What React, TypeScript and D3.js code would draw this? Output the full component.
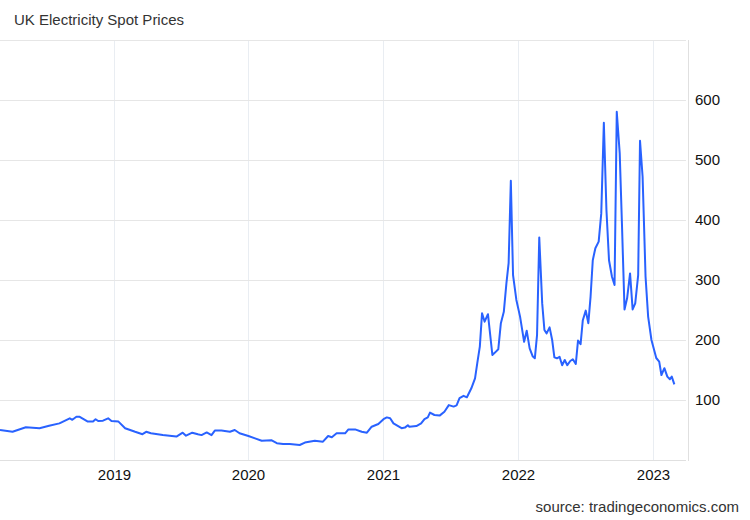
import React from "react";
import * as d3 from "d3";

const dates: string[] = [
  "2018-02-27","2018-04-02","2018-05-08","2018-06-14","2018-07-10","2018-08-07","2018-09-04","2018-09-11","2018-09-22","2018-10-01",
  "2018-10-23","2018-11-06","2018-11-13","2018-11-20","2018-12-03","2018-12-17","2018-12-26",
  "2019-01-14","2019-02-01","2019-02-28","2019-03-20","2019-03-30","2019-04-12","2019-05-14","2019-06-20","2019-07-07","2019-07-16",
  "2019-08-02","2019-08-17","2019-08-27","2019-09-10","2019-09-23","2019-10-02","2019-10-20","2019-11-12","2019-11-25","2019-12-08",
  "2020-01-01","2020-01-19","2020-02-06","2020-03-03","2020-03-18","2020-04-04","2020-04-22","2020-05-19","2020-06-02","2020-06-29",
  "2020-07-21","2020-08-04","2020-08-14","2020-08-27","2020-09-19","2020-09-28","2020-10-16","2020-11-03","2020-11-17","2020-11-30","2020-12-18",
  "2021-01-01","2021-01-10","2021-01-19","2021-01-28","2021-02-19","2021-02-28","2021-03-08","2021-03-12","2021-03-31","2021-04-13",
  "2021-04-22","2021-05-01","2021-05-07","2021-05-19","2021-06-02","2021-06-15","2021-06-27","2021-07-10","2021-07-18","2021-07-26",
  "2021-08-06","2021-08-15","2021-08-27","2021-09-06","2021-09-12","2021-09-19","2021-09-25","2021-10-02","2021-10-11","2021-10-23",
  "2021-10-30","2021-11-08","2021-11-15","2021-11-23","2021-11-30","2021-12-06","2021-12-12","2021-12-18","2021-12-27",
  "2022-01-06","2022-01-17","2022-01-24","2022-02-01","2022-02-09","2022-02-15","2022-02-21","2022-02-27","2022-03-07","2022-03-13",
  "2022-03-19","2022-03-27","2022-04-03","2022-04-09","2022-04-16","2022-04-23","2022-04-30","2022-05-07","2022-05-14","2022-05-22",
  "2022-05-29","2022-06-06","2022-06-12","2022-06-19","2022-06-25","2022-07-03","2022-07-10","2022-07-16","2022-07-22","2022-07-29",
  "2022-08-07","2022-08-14","2022-08-21","2022-08-28","2022-09-04","2022-09-12","2022-09-19","2022-09-25","2022-10-03","2022-10-09",
  "2022-10-16","2022-10-23","2022-10-31","2022-11-07","2022-11-14","2022-11-22","2022-11-27","2022-12-04","2022-12-12","2022-12-19","2022-12-28",
  "2023-01-10","2023-01-18","2023-01-24","2023-02-01","2023-02-09","2023-02-16","2023-02-21","2023-02-28",
];

const prices: number[] = [
  50,47,54.5,53,57,61,69.5,67,72,72,
  64,64,68,65,65.5,69.5,65,
  64,53,47,43,47,44.5,41.5,39,45.5,40.5,
  45.5,43,41.5,46,41.5,49,49,47,50,44.5,
  40,36,32,33,28,26.5,26.5,25,29,32,
  30.5,40,38,44.5,44.5,51,51,47,45.5,55.5,60,
  68,71,69.5,61,53,54,58,55.5,56.5,61,
  68,71,79,75,74,80.5,91.5,89,91,103,
  107,104.5,119.5,136,161,189,244.5,230.5,243,175,
  179,184.5,228,247,294.5,328,465.5,308,266.7,
  239,197,215.5,186,173,169.5,208,371,261,216.7,
  211,221,200,171,169.5,172,158,166.7,158,165,
  168,160,199,193,233,249,228,272,333,353,
  364,411,562,417,333,305.5,291.7,580.5,511,394.5,
  251,269.5,311,251,261,308,532,472,305.5,239,200,
  170,164,141.7,153,139,134.5,139,126,
];

const yTicks: number[] = [100, 200, 300, 400, 500, 600];
const yGrid: number[] = [100, 200, 300, 400, 500, 600, 700];
const xTickYears: number[] = [2019, 2020, 2021, 2022, 2023];

const W = 750;
const H = 520;
const left = 0;
const right = 688;
const top = 40;
const bottom = 460;

export default function App() {
  const parse = d3.timeParse("%Y-%m-%d");
  const data = dates.map((d, i) => ({ date: parse(d) as Date, value: prices[i] }));

  const x = d3
    .scaleTime()
    .domain([new Date(2018, 1, 27), new Date(2023, 3, 6)])
    .range([left, right]);
  const y = d3.scaleLinear().domain([0, 700]).range([bottom, top]);

  const line = d3
    .line<{ date: Date; value: number }>()
    .x((d) => x(d.date))
    .y((d) => y(d.value))
    .curve(d3.curveLinear);

  const font = "'Liberation Sans', Arial, Helvetica, sans-serif";

  return (
    <svg
      width={W}
      height={H}
      style={{ position: "absolute", left: 0, top: 0, background: "#fff" }}
      fontFamily={font}
    >
      <rect x={0} y={0} width={W} height={H} fill="#fff" />
      <text x={14} y={25} fontSize={15} fill="#333">
        UK Electricity Spot Prices
      </text>

      {xTickYears.map((yr) => {
        const xx = Math.round(x(new Date(yr, 0, 1))) + 0.5;
        return (
          <g key={yr}>
            <line x1={xx} x2={xx} y1={top} y2={bottom} stroke="#e9edf2" strokeWidth={1} />
            <text x={xx} y={480} fontSize={15} textAnchor="middle" fill="#111">
              {yr}
            </text>
          </g>
        );
      })}

      {yGrid.map((v) => {
        const yy = Math.round(y(v)) + 0.5;
        return <line key={v} x1={left} x2={right - 2} y1={yy} y2={yy} stroke="#e6e6e6" strokeWidth={1} />;
      })}
      <line x1={left} x2={right - 2} y1={bottom + 0.5} y2={bottom + 0.5} stroke="#e0e0e0" strokeWidth={1} />
      <line x1={right + 0.5} x2={right + 0.5} y1={top} y2={bottom + 1} stroke="#e0e0e0" strokeWidth={1} />

      {yTicks.map((v) => (
        <text key={v} x={695} y={y(v)} dy="0.35em" fontSize={15} fill="#111">
          {v}
        </text>
      ))}

      <path d={line(data) || ""} fill="none" stroke="#2962ff" strokeWidth={2} strokeLinejoin="round" />

      <text x={739} y={512} fontSize={15} textAnchor="end" fill="#333">
        source: tradingeconomics.com
      </text>
    </svg>
  );
}
